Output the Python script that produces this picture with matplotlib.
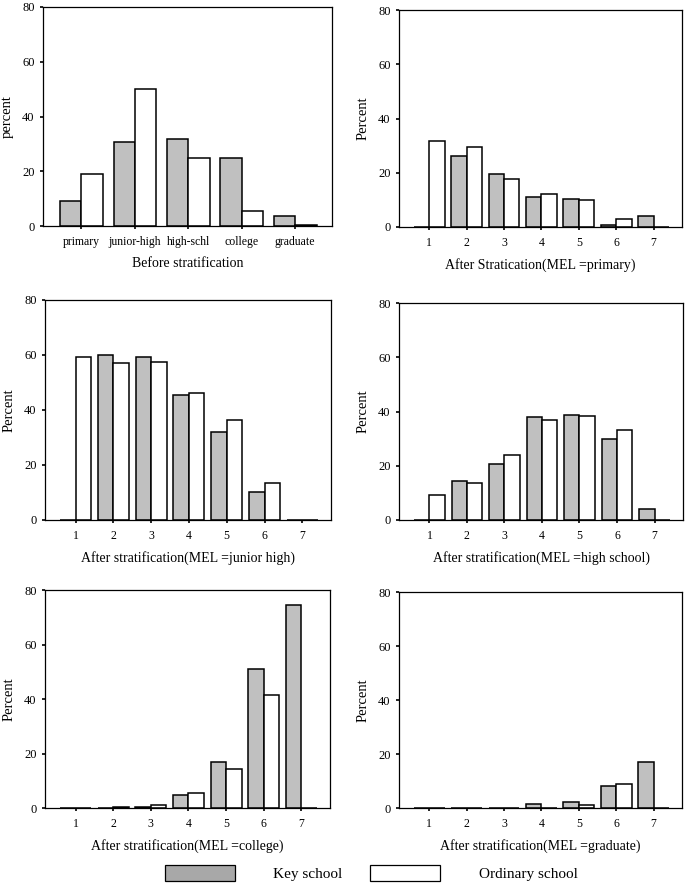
import numpy as np
import matplotlib
matplotlib.use("Agg")
import matplotlib.pyplot as plt
from matplotlib.patches import Patch

plt.rcParams['font.family'] = ['Liberation Serif', 'DejaVu Serif']

# panel 1: before stratification
levels = ['primary', 'junior-high', 'high-schl', 'college', 'graduate']
key_before = [9.0, 30.6, 31.7, 25.0, 3.8]
ord_before = [19.1, 49.9, 25.0, 5.6, 0.5]

# panels 2-6: after stratification, groups 1..7
groups = [1, 2, 3, 4, 5, 6, 7]
key_primary = [0, 26.1, 19.4, 11.0, 10.3, 0.9, 4.1]
ord_primary = [31.8, 29.5, 17.8, 12.2, 9.8, 2.8, 0]
key_junior = [0, 60.0, 59.4, 45.5, 32.1, 10.2, 0]
ord_junior = [59.2, 57.1, 57.6, 46.1, 36.4, 13.6, 0]
key_high = [0, 14.2, 20.8, 37.8, 38.8, 29.7, 4.1]
ord_high = [9.2, 13.7, 23.9, 36.7, 38.5, 33.1, 0]
key_college = [0, 0.1, 0.4, 4.8, 16.8, 51.0, 74.7]
ord_college = [0, 0.3, 1.0, 5.4, 14.5, 41.4, 0]
key_grad = [0, 0, 0, 1.5, 2.1, 8.1, 16.9]
ord_grad = [0, 0, 0, 0, 1.1, 9.0, 0]

titles = ['Before stratification',
          'After Stratication(MEL =primary)',
          'After stratification(MEL =junior high)',
          'After stratification(MEL =high school)',
          'After stratification(MEL =college)',
          'After stratification(MEL =graduate)']

gray = '#c0c0c0'

fig = plt.figure(figsize=(6.85, 8.86), dpi=100)

boxes = [[0.0628, 0.7449, 0.4219, 0.2472],
         [0.5825, 0.7438, 0.4131, 0.2449],
         [0.0657, 0.4131, 0.4175, 0.2483],
         [0.5825, 0.4131, 0.4146, 0.2449],
         [0.0657, 0.0880, 0.4161, 0.2460],
         [0.5825, 0.0880, 0.4131, 0.2438]]

panels = [(levels, key_before, ord_before),
          (groups, key_primary, ord_primary),
          (groups, key_junior, ord_junior),
          (groups, key_high, ord_high),
          (groups, key_college, ord_college),
          (groups, key_grad, ord_grad)]

for i, (cats, k, o) in enumerate(panels):
    ax = fig.add_axes(boxes[i])
    x = np.arange(1, len(cats) + 1)
    w = 0.4 if i == 0 else 0.41
    ax.bar(x, k, width=-w, align='edge', color=gray, edgecolor='black', linewidth=1.1)
    ax.bar(x, o, width=w, align='edge', color='white', edgecolor='black', linewidth=1.1)
    ax.set_ylim(0, 80)
    ax.set_yticks([0, 20, 40, 60, 80])
    if i == 0:
        ax.set_xlim(0.28, len(cats) + 0.69)
    else:
        ax.set_xlim(0.19, 7.76)
    ax.set_xticks(x)
    ax.set_xticklabels([str(c) for c in cats])
    ax.tick_params(axis='both', length=2.5, width=1.2, direction='out')
    ax.tick_params(axis='x', labelsize=8.5, pad=5)
    ax.tick_params(axis='y', labelsize=9)
    for s in ax.spines.values():
        s.set_linewidth(0.9)
    ax.set_xlabel(titles[i], fontsize=10, labelpad=6)
    ax.set_ylabel('percent' if i == 0 else 'Percent', fontsize=10.5, labelpad=6)

handles = [Patch(facecolor='#a8a8a8', edgecolor='black', linewidth=0.9, label='Key school'),
           Patch(facecolor='white', edgecolor='black', linewidth=0.9, label='Ordinary school')]
fig.legend(handles=handles, loc='center', bbox_to_anchor=(0.542, 0.0147), ncol=2,
           frameon=False, fontsize=11, handlelength=4.6, handleheight=1.3,
           handletextpad=2.5, columnspacing=1.8)

fig.savefig('out.png', dpi=100)
